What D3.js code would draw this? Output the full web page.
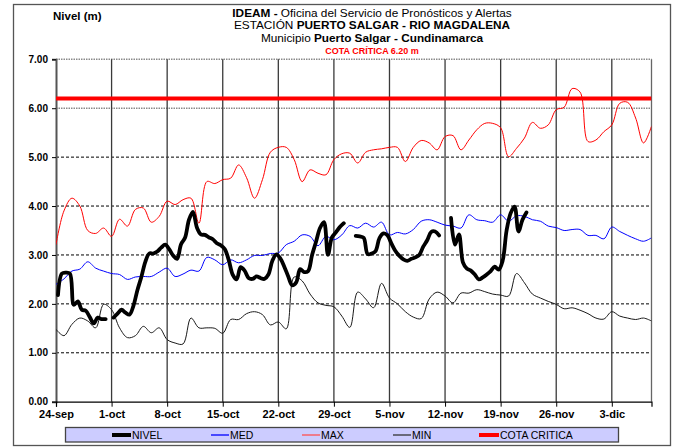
<!DOCTYPE html>
<html>
<head>
<meta charset="utf-8">
<script src="https://cdnjs.cloudflare.com/ajax/libs/d3/7.8.5/d3.min.js"></script>
<style>
  body { margin: 0; background: #fff; }
  svg { display: block; font-family: "Liberation Sans", Arial, sans-serif; }
</style>
</head>
<body>
<script>
// ---------------- DATA ----------------
const startDate = Date.UTC(2023, 8, 24);   // 24-sep
const nDays = 75;                           // axis runs to 8-dic
const xTickLabels = ["24-sep","1-oct","8-oct","15-oct","22-oct","29-oct","5-nov","12-nov","19-nov","26-nov","3-dic"];
const yTickLabels = ["0.00","1.00","2.00","3.00","4.00","5.00","6.00","7.00"];
const cotaCritica = 6.20;

// daily series (24-sep .. 8-dic)
const maxValues = [3.21,3.90,4.16,4.00,3.50,3.44,3.55,3.38,3.73,3.59,
  3.93,3.96,3.67,3.79,4.10,4.03,4.13,4.16,3.65,4.50,
  4.46,4.54,4.57,4.84,4.58,4.16,4.54,5.10,5.20,5.20,
  4.95,4.50,4.74,4.67,4.64,4.95,5.07,5.08,4.88,5.10,
  5.15,5.17,5.20,5.20,4.91,5.20,5.34,5.29,5.15,5.42,
  5.44,5.15,5.35,5.56,5.69,5.69,5.60,5.01,5.18,5.39,
  5.71,5.59,5.66,5.97,6.02,6.40,6.33,5.32,5.35,5.52,
  5.66,6.10,6.12,5.80,5.29,5.63];
const medValues = [2.40,2.51,2.67,2.71,2.86,2.73,2.67,2.62,2.60,2.50,
  2.55,2.56,2.56,2.65,2.73,2.56,2.61,2.69,2.67,2.95,
  2.90,2.80,2.90,2.84,2.90,2.99,2.99,3.03,3.04,3.21,
  3.28,3.41,3.38,3.19,3.38,3.31,3.41,3.60,3.55,3.65,
  3.57,3.67,3.41,3.46,3.43,3.52,3.69,3.72,3.67,3.61,
  3.59,3.55,3.82,3.72,3.70,3.67,3.82,3.69,3.80,3.79,
  3.72,3.69,3.59,3.56,3.50,3.52,3.52,3.40,3.40,3.33,
  3.57,3.48,3.40,3.33,3.28,3.35];
const minValues = [1.48,1.35,1.58,1.71,1.65,1.51,1.99,1.88,1.51,1.31,
  1.35,1.54,1.41,1.51,1.27,1.20,1.18,1.71,1.51,1.51,
  1.50,1.40,1.68,1.68,1.80,1.84,1.78,1.57,1.63,1.49,
  2.55,2.47,2.20,2.02,1.97,1.94,1.75,1.52,2.24,2.10,
  1.92,2.42,2.12,2.00,1.84,1.73,1.70,2.10,2.24,2.16,
  2.02,2.22,2.22,2.29,2.25,2.20,2.18,2.16,2.62,2.43,
  2.20,2.12,2.05,1.99,1.90,1.92,1.87,1.80,1.71,1.69,
  1.84,1.75,1.71,1.68,1.71,1.65];

// observed level, readings at 06:00 and 18:00 from 24-sep (null = no reading)
const nivelValues = [2.18,2.62,2.64,2.62,1.98,2.05,1.88,1.86,1.73,1.60,
  1.72,1.69,1.69,null,1.72,1.80,1.88,1.82,1.78,1.96,
  2.28,2.55,2.86,3.03,3.03,3.07,3.15,3.21,3.12,2.99,
  2.92,3.22,3.35,3.72,3.88,3.56,3.42,3.41,3.36,3.32,
  3.24,3.20,3.12,2.90,2.60,2.50,2.75,2.68,2.53,2.51,
  2.56,2.53,2.51,2.60,2.88,3.01,2.93,2.76,2.56,2.38,
  2.44,2.71,2.65,2.67,3.00,3.27,3.55,3.67,3.00,3.36,
  3.46,3.57,3.65,null,null,3.39,3.38,3.35,3.02,3.03,
  3.08,3.35,3.44,3.40,3.23,3.08,2.98,2.91,2.88,2.92,
  2.95,3.00,3.17,3.30,3.47,3.48,3.40,null,null,3.76,
  3.21,3.42,2.85,2.72,2.68,2.60,2.50,2.54,2.60,2.67,
  2.76,2.70,2.88,3.50,3.85,3.99,3.48,3.72,3.87];

const legendLabels = ["NIVEL","MED","MAX","MIN","COTA CRITICA"];

// ---------------- CHART ----------------
const W = 676, H = 447;
const DAY = 86400000;
const svg = d3.select("body").append("svg").attr("width", W).attr("height", H);

const x = d3.scaleUtc().domain([startDate, startDate + nDays * DAY]).range([56, 651.5]);
const y = d3.scaleLinear().domain([0, 7]).range([401.7, 59.3]);

// outer frame
svg.append("rect").attr("x", 13.5).attr("y", 4.5).attr("width", 657).attr("height", 441)
  .attr("fill", "none").attr("stroke", "#555").attr("stroke-width", 1.3);

// horizontal grid
const yTicks = yTickLabels.map(Number);
svg.append("g").selectAll("line").data(yTicks.filter(v => v > 0)).join("line")
  .attr("x1", x.range()[0]).attr("x2", x.range()[1])
  .attr("y1", d => y(d)).attr("y2", d => y(d))
  .attr("stroke", d => d >= 6 ? "#8a8a8a" : "#000")
  .attr("stroke-width", d => d >= 6 ? 1.6 : 1)
  .attr("stroke-dasharray", d => d >= 6 ? "1.5,1" : "3,2");

// vertical grid (weekly)
const weekDates = xTickLabels.map((_, i) => startDate + i * 7 * DAY);
svg.append("g").selectAll("line").data(weekDates.slice(1)).join("line")
  .attr("x1", d => x(d)).attr("x2", d => x(d))
  .attr("y1", y(7)).attr("y2", y(0))
  .attr("stroke", "#3a3a3a").attr("stroke-width", 1.3);

// plot right border
svg.append("line").attr("x1", x.range()[1]).attr("x2", x.range()[1])
  .attr("y1", y(7)).attr("y2", y(0)).attr("stroke", "#666").attr("stroke-width", 1.3);

// y axis
const yAxis = svg.append("g").attr("transform", `translate(${x.range()[0]},0)`)
  .call(d3.axisLeft(y).tickValues(yTicks).tickSize(4).tickFormat((d, i) => yTickLabels[i]));
yAxis.select(".domain").attr("stroke", "#555").attr("stroke-width", 2);
yAxis.selectAll(".tick line").attr("stroke", "#000");
yAxis.selectAll(".tick text").attr("font-size", 10).attr("font-weight", "bold")
  .attr("font-family", "Liberation Sans, Arial, sans-serif").attr("fill", "#000").attr("x", -8);

// x axis
const xAxis = svg.append("g").attr("transform", `translate(0,${y(0)})`)
  .call(d3.axisBottom(x).tickValues(weekDates).tickSize(5).tickFormat((d, i) => xTickLabels[i]));
xAxis.select(".domain").attr("stroke", "#000").attr("stroke-width", 1.2);
xAxis.selectAll(".tick line").attr("stroke", "#000");
xAxis.selectAll(".tick text").attr("font-size", 11).attr("font-weight", "bold")
  .attr("font-family", "Liberation Sans, Arial, sans-serif").attr("fill", "#000")
  .attr("y", 9);

// clip
svg.append("clipPath").attr("id", "plot").append("rect")
  .attr("x", x.range()[0]).attr("y", y(7)).attr("width", x.range()[1] - x.range()[0]).attr("height", y(0) - y(7));
const plot = svg.append("g").attr("clip-path", "url(#plot)");

const dailyLine = d3.line().x((d, i) => x(startDate + i * DAY)).y(d => y(d)).curve(d3.curveCatmullRom);

plot.append("path").attr("d", dailyLine(minValues)).attr("fill", "none").attr("stroke", "#1a1a1a").attr("stroke-width", 1);
plot.append("path").attr("d", dailyLine(medValues)).attr("fill", "none").attr("stroke", "#0000ff").attr("stroke-width", 1);
plot.append("path").attr("d", dailyLine(maxValues)).attr("fill", "none").attr("stroke", "#ff0000").attr("stroke-width", 1);

// critical level
plot.append("line").attr("x1", x.range()[0]).attr("x2", x.range()[1])
  .attr("y1", y(cotaCritica)).attr("y2", y(cotaCritica))
  .attr("stroke", "#ff0000").attr("stroke-width", 4);

// observed level
const nivelLine = d3.line()
  .defined(d => d != null)
  .x((d, i) => x(startDate + (0.25 + 0.5 * i) * DAY))
  .y(d => y(d))
  .curve(d3.curveCatmullRom);
plot.append("path").attr("d", nivelLine(nivelValues)).attr("fill", "none")
  .attr("stroke", "#000").attr("stroke-width", 3.8).attr("stroke-linejoin", "round").attr("stroke-linecap", "round");

// titles
const font = "Liberation Sans, Arial, sans-serif";
svg.append("text").attr("x", 53).attr("y", 19.5).attr("font-size", 11.5).attr("font-weight", "bold")
  .attr("font-family", font).text("Nivel (m)");

const titleX = 372;
const tSize = 11.8;
const t1 = svg.append("text").attr("x", titleX).attr("y", 16.5).attr("text-anchor", "middle").attr("font-size", tSize).attr("font-family", font);
t1.append("tspan").attr("font-weight", "bold").text("IDEAM - ");
t1.append("tspan").text("Oficina del Servicio de Pronósticos y Alertas");
const t2 = svg.append("text").attr("x", titleX).attr("y", 29.2).attr("text-anchor", "middle").attr("font-size", tSize).attr("font-family", font);
t2.append("tspan").text("ESTACIÓN ");
t2.append("tspan").attr("font-weight", "bold").text("PUERTO SALGAR - RIO MAGDALENA");
const t3 = svg.append("text").attr("x", titleX).attr("y", 41.8).attr("text-anchor", "middle").attr("font-size", tSize).attr("font-family", font);
t3.append("tspan").text("Municipio ");
t3.append("tspan").attr("font-weight", "bold").text("Puerto Salgar - Cundinamarca");
svg.append("text").attr("x", titleX).attr("y", 53.6).attr("text-anchor", "middle").attr("font-size", 9)
  .attr("font-weight", "bold").attr("fill", "#ff0000").attr("font-family", font).text("COTA CRÍTICA 6.20 m");

// legend
svg.append("rect").attr("x", 65.5).attr("y", 427.5).attr("width", 553).attr("height", 14.5)
  .attr("fill", "#ccccff").attr("stroke", "#444").attr("stroke-width", 1.3);
const legendStyle = [
  {stroke: "#000", w: 4, x0: 112, x1: 131},
  {stroke: "#0000ff", w: 1.3, x0: 211, x1: 229},
  {stroke: "#ff5050", w: 1.3, x0: 302, x1: 320},
  {stroke: "#333", w: 1.3, x0: 393, x1: 411},
  {stroke: "#ff0000", w: 4, x0: 479, x1: 499}
];
const lg = svg.append("g").selectAll("g").data(legendLabels).join("g");
lg.append("line").attr("x1", (d, i) => legendStyle[i].x0).attr("x2", (d, i) => legendStyle[i].x1)
  .attr("y1", 435).attr("y2", 435)
  .attr("stroke", (d, i) => legendStyle[i].stroke).attr("stroke-width", (d, i) => legendStyle[i].w);
lg.append("text").attr("x", (d, i) => legendStyle[i].x1 + 1).attr("y", 438.8)
  .attr("font-size", 10.5).attr("font-family", font).text(d => d);
</script>
</body>
</html>
